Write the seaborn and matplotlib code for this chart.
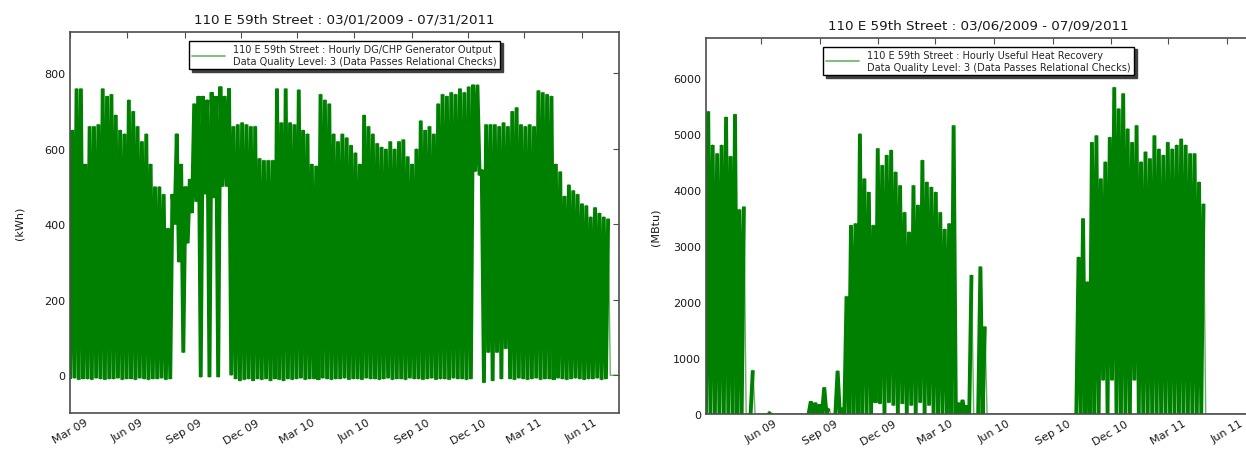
import numpy as np
import pandas as pd
import matplotlib
matplotlib.use("Agg")
import matplotlib.pyplot as plt
import matplotlib.dates as mdates
import seaborn as sns

# ---------------- data (weekly peak / trough) ----------------
gen_title = "110 E 59th Street : 03/01/2009 - 07/31/2011"
gen_label = ("110 E 59th Street : Hourly DG/CHP Generator Output\n"
             "Data Quality Level: 3 (Data Passes Relational Checks)")
gen_start = "2009-03-01"
gen_axis_end = "2011-07-31"
gen_peak = [650, 760, 760, 560, 660, 660, 665, 760, 740, 745,
            690, 650, 640, 730, 700, 660, 620, 640, 560, 500,
            500, 480, 390, 480, 640, 560, 500, 520, 720, 740,
            740, 730, 750, 740, 765, 740, 760, 660, 665, 670,
            665, 660, 660, 575, 570, 570, 570, 760, 670, 760,
            670, 665, 757, 650, 640, 560, 555, 745, 730, 720,
            640, 620, 640, 630, 610, 590, 560, 690, 660, 640,
            615, 605, 600, 620, 600, 620, 625, 580, 560, 600,
            675, 650, 660, 640, 720, 745, 740, 750, 745, 760,
            750, 765, 770, 770, 545, 665, 665, 665, 660, 670,
            660, 700, 710, 665, 660, 665, 660, 755, 750, 745,
            740, 560, 540, 475, 505, 490, 480, 455, 450, 420,
            445, 430, 420, 415]
gen_trough = [-10, -8, -12, -10, -10, -12, -8, -10, -12, -10,
              -10, -8, -12, -10, -10, -12, -8, -10, -12, -10,
              -10, -8, -12, -10, 400, 300, 60, 350, 430, 460,
              -5, 480, -5, 470, -5, 500, 500, 0, -10, -15,
              -12, -10, -15, -10, -12, -10, -15, -10, -12, -15,
              -10, -12, -10, -8, -12, -10, -10, -12, -8, -10,
              -12, -10, -10, -8, -12, -10, -10, -12, -8, -10,
              -10, -12, -10, -8, -12, -10, -10, -12, -8, -10,
              -10, -12, -10, -8, -12, -10, -10, -12, -8, -10,
              -10, -12, -10, 540, 530, -20, 60, -15, 60, -10,
              70, -10, -12, -8, -10, -12, -10, -8, -12, -10,
              -10, -12, -8, -10, -12, -10, -8, -10, -12, -10,
              -10, -8, -12, -10]

heat_title = "110 E 59th Street : 03/06/2009 - 07/09/2011"
heat_label = ("110 E 59th Street : Hourly Useful Heat Recovery\n"
              "Data Quality Level: 3 (Data Passes Relational Checks)")
heat_start = "2009-03-06"
heat_axis_end = "2011-07-09"
heat_peak = [5400, 4800, 4650, 4800, 5300, 4600, 5350, 3650, 3700, 0,
             780, 0, 0, 0, 30, 0, 0, 0, 0, 0,
             0, 0, 0, 225, 200, 170, 475, 100, 0, 770,
             100, 2100, 3370, 3400, 5000, 4200, 3960, 3370, 4740, 4440,
             4620, 4710, 4320, 4080, 3600, 3250, 4080, 3730, 4530, 4140,
             4050, 3960, 3600, 3300, 3400, 5150, 200, 250, 150, 2480,
             0, 2630, 1560, 0, 0, 0, 0, 0, 0, 0,
             0, 0, 0, 0, 0, 0, 0, 0, 0, 0,
             0, 0, 0, 2800, 3490, 2360, 4850, 4970, 4200, 4500,
             4940, 5830, 5450, 5720, 5090, 4850, 5150, 4500, 4680, 4560,
             4970, 4730, 4620, 4850, 4730, 4800, 4910, 4800, 4650, 4650,
             4140, 3750, 0, 0, 0, 0, 0, 0, 0, 0,
             0, 0]
heat_trough = [0, 0, 0, 0, 0, 0, 0, 0, 0, 0,
               0, 0, 0, 0, 0, 0, 0, 0, 0, 0,
               0, 0, 0, 0, 0, 0, 0, 0, 0, 0,
               0, 0, 0, 0, 0, 0, 0, 0, 200, 180,
               0, 200, 150, 0, 180, 0, 150, 0, 200, 0,
               150, 0, 0, 0, 0, 0, 0, 0, 0, 0,
               0, 0, 0, 0, 0, 0, 0, 0, 0, 0,
               0, 0, 0, 0, 0, 0, 0, 0, 0, 0,
               0, 0, 0, 0, 0, 0, 0, 0, 0, 600,
               0, 600, 0, 0, 0, 0, 600, 0, 0, 0,
               0, 0, 0, 0, 0, 0, 0, 0, 0, 0,
               0, 0, 0, 0, 0, 0, 0, 0, 0, 0,
               0, 0]


def weekly_frame(start, peak, trough, end):
    t0 = pd.Timestamp(start)
    times, vals, active = [], [], []
    for i, (p, t) in enumerate(zip(peak, trough)):
        on = (p != 0) or (t != 0)
        times.append(t0 + pd.Timedelta(days=7 * i))
        vals.append(t)
        active.append(on)
        times.append(t0 + pd.Timedelta(days=7 * i + 3.5))
        vals.append(p)
        active.append(on)
    times.append(t0 + pd.Timedelta(days=7 * len(peak)))
    vals.append(0)
    active.append(False)
    times.append(pd.Timestamp(end))
    vals.append(0)
    active.append(False)
    df = pd.DataFrame({"time": times, "value": vals, "active": active})
    df["seg"] = (df["active"] != df["active"].shift()).cumsum()
    return df


sns.set_style("white")
plt.rcParams["font.family"] = ["DejaVu Sans"]

fig = plt.figure(figsize=(12.46, 4.52), dpi=100)
ax1 = fig.add_axes([0.0562, 0.0841, 0.4406, 0.843])
ax2 = fig.add_axes([0.5666, 0.0819, 0.4374, 0.832])

panels = [
    (ax1, weekly_frame(gen_start, gen_peak, gen_trough, gen_axis_end), gen_title, gen_label,
     gen_start, gen_axis_end, (-100, 910), [0, 200, 400, 600, 800], "(kWh)", 14, True),
    (ax2, weekly_frame(heat_start, heat_peak, heat_trough, heat_axis_end), heat_title, heat_label,
     heat_start, heat_axis_end, (0, 6710), [0, 1000, 2000, 3000, 4000, 5000, 6000], "(MBtu)", 9, False),
]

for ax, df, title, label, xs, xe, ylim, yticks, ylab, lpad, rticks in panels:
    # thin trace of the whole series (also gives the legend entry)
    sns.lineplot(data=df, x="time", y="value", ax=ax, color="green", alpha=0.6,
                 linewidth=1.0, estimator=None, sort=False, label=label)
    # dense hourly swings: heavier strokes on the operating stretches
    sns.lineplot(data=df[df["active"]], x="time", y="value", units="seg", ax=ax,
                 color="green", linewidth=2.8, estimator=None, sort=False, legend=False,
                 solid_joinstyle="bevel", solid_capstyle="butt")
    ax.set_xlim(pd.Timestamp(xs), pd.Timestamp(xe))
    ax.set_ylim(*ylim)
    ax.set_yticks(yticks)
    ax.xaxis.set_major_locator(mdates.MonthLocator(bymonth=[3, 6, 9, 12]))
    ax.xaxis.set_major_formatter(mdates.DateFormatter("%b %y"))
    ax.tick_params(direction="in", top=True, right=rticks, length=4, width=0.8,
                   color="0.3", labelsize=8, labelcolor="0.1")
    ax.tick_params(axis="x", pad=3)
    for lab in ax.get_xticklabels():
        lab.set_rotation(30)
        lab.set_ha("center")
    for sp in ax.spines.values():
        sp.set_color("0.3")
        sp.set_linewidth(1.2)
    ax.set_xlabel("")
    ax.set_ylabel(ylab, fontsize=8, labelpad=lpad, color="0.1")
    ax.set_title(title, fontsize=9.7, pad=7, color="0.1")
    leg = ax.legend(loc="upper center", fontsize=7, frameon=True, fancybox=False,
                    shadow={"color": "0.25", "alpha": 1.0}, edgecolor="black",
                    handlelength=3.4, borderpad=0.35, handletextpad=0.8,
                    borderaxespad=0.9)
    leg.get_frame().set_linewidth(1.0)
    for ln in leg.get_lines():
        ln.set_linewidth(1.2)

fig.savefig("out.png", dpi=100)
